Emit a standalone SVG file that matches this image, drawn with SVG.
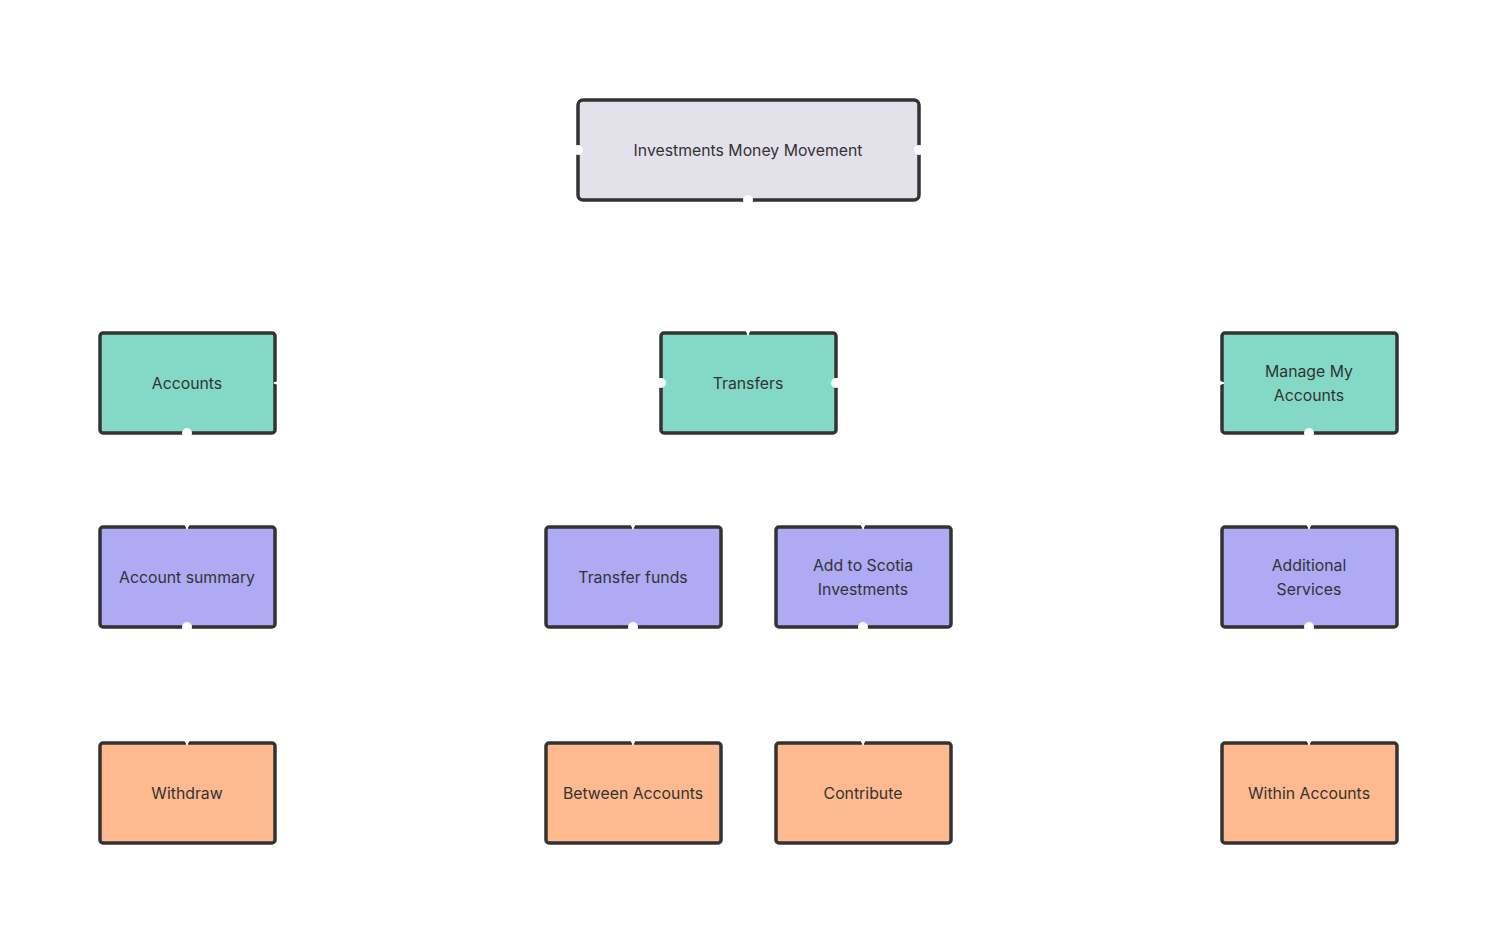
<svg xmlns="http://www.w3.org/2000/svg" width="1497" height="943" viewBox="0 0 1497 943">
<style>
.box{stroke:#333333;stroke-width:3.5}
.l1{fill:#e3e1ea}
.l2{fill:#84d9c6}
.l3{fill:#aeaaf4}
.l4{fill:#feba8e}
text{font-family:Inter,"Liberation Sans",sans-serif;font-size:15.8px;fill:#333333;text-anchor:middle;dominant-baseline:central}
.c{fill:none;stroke:#ffffff;stroke-width:1.5}
.dot{fill:#ffffff}
</style>
<defs>
<marker id="ah" viewBox="0 0 10 10" refX="9" refY="5" markerWidth="7" markerHeight="7" orient="auto" markerUnits="userSpaceOnUse">
<path d="M0,0 L10,5 L0,10 z" fill="#ffffff"/>
</marker>
</defs>
<rect width="1497" height="943" fill="#ffffff"/>
<g id="node-root"><rect class="box l1" x="578" y="100" width="341" height="100" rx="5"/><text x="748" y="150">Investments Money Movement</text></g>
<g id="node-accounts"><rect class="box l2" x="100" y="333" width="175" height="100" rx="3"/><text x="187" y="383">Accounts</text></g>
<g id="node-transfers"><rect class="box l2" x="661" y="333" width="175" height="100" rx="3"/><text x="748" y="383">Transfers</text></g>
<g id="node-manage"><rect class="box l2" x="1222" y="333" width="175" height="100" rx="3"/><text x="1309" y="371">Manage My</text><text x="1309" y="395">Accounts</text></g>
<g id="node-summary"><rect class="box l3" x="100" y="527" width="175" height="100" rx="3"/><text x="187" y="577">Account summary</text></g>
<g id="node-transferfunds"><rect class="box l3" x="546" y="527" width="175" height="100" rx="3"/><text x="633" y="577">Transfer funds</text></g>
<g id="node-scotia"><rect class="box l3" x="776" y="527" width="175" height="100" rx="3"/><text x="863" y="565">Add to Scotia</text><text x="863" y="589">Investments</text></g>
<g id="node-additional"><rect class="box l3" x="1222" y="527" width="175" height="100" rx="3"/><text x="1309" y="565">Additional</text><text x="1309" y="589">Services</text></g>
<g id="node-withdraw"><rect class="box l4" x="100" y="743" width="175" height="100" rx="3"/><text x="187" y="793">Withdraw</text></g>
<g id="node-between"><rect class="box l4" x="546" y="743" width="175" height="100" rx="3"/><text x="633" y="793">Between Accounts</text></g>
<g id="node-contribute"><rect class="box l4" x="776" y="743" width="175" height="100" rx="3"/><text x="863" y="793">Contribute</text></g>
<g id="node-within"><rect class="box l4" x="1222" y="743" width="175" height="100" rx="3"/><text x="1309" y="793">Within Accounts</text></g>
<g id="connectors">
<path class="c" d="M578,150 C420,150 430,383 274,383" marker-end="url(#ah)"/>
<path class="c" d="M919,150 C1070,150 1070,383 1224,383" marker-end="url(#ah)"/>
<path class="c" d="M748,200 L748,335" marker-end="url(#ah)"/>
<path class="c" d="M661,383 C620,383 633,460 633,529" marker-end="url(#ah)"/>
<path class="c" d="M836,383 C877,383 863,460 863,529" marker-end="url(#ah)"/>
<path class="c" d="M187,433 L187,529" marker-end="url(#ah)"/>
<path class="c" d="M1309,433 L1309,529" marker-end="url(#ah)"/>
<path class="c" d="M187,627 L187,745" marker-end="url(#ah)"/>
<path class="c" d="M633,627 L633,745" marker-end="url(#ah)"/>
<path class="c" d="M863,627 L863,745" marker-end="url(#ah)"/>
<path class="c" d="M1309,627 L1309,745" marker-end="url(#ah)"/>
<circle class="dot" cx="578" cy="150" r="5"/>
<circle class="dot" cx="919" cy="150" r="5"/>
<circle class="dot" cx="748" cy="200" r="5"/>
<circle class="dot" cx="661" cy="383" r="5"/>
<circle class="dot" cx="836" cy="383" r="5"/>
<circle class="dot" cx="187" cy="433" r="5"/>
<circle class="dot" cx="1309" cy="433" r="5"/>
<circle class="dot" cx="187" cy="627" r="5"/>
<circle class="dot" cx="633" cy="627" r="5"/>
<circle class="dot" cx="863" cy="627" r="5"/>
<circle class="dot" cx="1309" cy="627" r="5"/>
</g>
</svg>
